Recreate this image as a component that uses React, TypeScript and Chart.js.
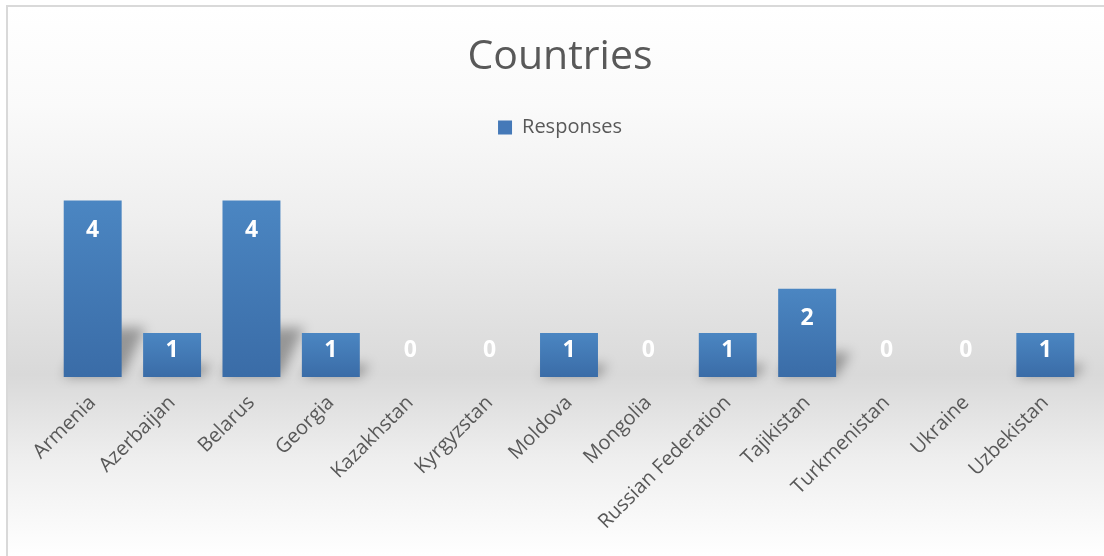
import React, { useEffect, useRef } from "react";
import { Chart, registerables } from "chart.js";

Chart.register(...registerables);

const categories = [
  "Armenia",
  "Azerbaijan",
  "Belarus",
  "Georgia",
  "Kazakhstan",
  "Kyrgyzstan",
  "Moldova",
  "Mongolia",
  "Russian Federation",
  "Tajikistan",
  "Turkmenistan",
  "Ukraine",
  "Uzbekistan",
];
const responses = [4, 1, 4, 1, 0, 0, 1, 0, 1, 2, 0, 0, 1];
const seriesName = "Responses";
const chartTitle = "Countries";
const yAxisMax = 5.2;

const FONT = "'Open Sans', 'DejaVu Sans', sans-serif";
const TEXT = "#595959";

const shadowPlugin = {
  id: "floorShadow",
  beforeDatasetsDraw(chart: any) {
    const ctx = chart.ctx;
    const meta = chart.getDatasetMeta(0);
    ctx.save();
    ctx.filter = "blur(6px)";
    ctx.fillStyle = "rgba(0,0,0,0.32)";
    meta.data.forEach((bar: any) => {
      const p = bar.getProps(["x", "y", "base", "width"], true);
      const h = p.base - p.y;
      if (h <= 0) return;
      const left = p.x - p.width / 2;
      const right = p.x + p.width / 2;
      const up = h * 0.28;
      const sh = 6 + h * 0.1;
      ctx.beginPath();
      ctx.moveTo(left, p.base);
      ctx.lineTo(right, p.base);
      ctx.lineTo(right + sh, p.base - up);
      ctx.lineTo(left + sh, p.base - up);
      ctx.closePath();
      ctx.fill();
    });
    ctx.restore();
  },
};

const labelPlugin = {
  id: "barValueLabels",
  afterDatasetsDraw(chart: any) {
    const ctx = chart.ctx;
    const meta = chart.getDatasetMeta(0);
    ctx.save();
    ctx.fillStyle = "#ffffff";
    ctx.font = `bold 23px ${FONT}`;
    ctx.textAlign = "center";
    ctx.textBaseline = "middle";
    meta.data.forEach((bar: any, i: number) => {
      const p = bar.getProps(["x", "y", "base"], true);
      const ly = Math.min(p.y + 30, p.base - 27);
      ctx.fillText(String(responses[i]), p.x, ly);
    });
    ctx.restore();
  },
};

export default function App() {
  const ref = useRef<HTMLCanvasElement>(null);

  useEffect(() => {
    document.body.style.overflow = "hidden";
    const canvas = ref.current!;
    const chart = new Chart(canvas, {
      type: "bar",
      data: {
        labels: categories,
        datasets: [
          {
            label: seriesName,
            data: responses,
            backgroundColor: (c: any) => {
              const ch = c.chart;
              if (!ch.chartArea || c.dataIndex === undefined) return "#4a7ebb";
              const ys = ch.scales.y;
              const v = responses[c.dataIndex];
              const top = ys.getPixelForValue(v);
              const base = ys.getPixelForValue(0);
              if (!isFinite(top) || !isFinite(base) || top === base) return "#4a7ebb";
              const g = ch.ctx.createLinearGradient(0, top, 0, base);
              g.addColorStop(0, "#4b86c2");
              g.addColorStop(1, "#3a6ca7");
              return g;
            },
            borderWidth: 0,
            categoryPercentage: 1,
            barPercentage: 0.73,
          },
        ],
      },
      options: {
        responsive: false,
        animation: false,
        layout: { padding: { left: 0, right: 2, top: 0, bottom: 19 } },
        plugins: {
          title: {
            display: true,
            text: chartTitle,
            color: TEXT,
            font: { family: FONT, size: 41, weight: "normal", lineHeight: 1.1 },
            padding: { top: 28, bottom: 0 },
          },
          legend: {
            display: true,
            labels: {
              color: TEXT,
              font: { family: FONT, size: 20 },
              boxWidth: 14,
              boxHeight: 14,
              padding: 37.5,
              generateLabels: () => [
                {
                  text: seriesName,
                  fillStyle: "#4579b8",
                  strokeStyle: "#4579b8",
                  lineWidth: 0,
                  fontColor: TEXT,
                  datasetIndex: 0,
                  hidden: false,
                },
              ],
            },
          },
          tooltip: { enabled: false },
        },
        scales: {
          x: {
            grid: { display: false, drawTicks: false },
            border: { display: false },
            ticks: {
              color: TEXT,
              font: { family: FONT, size: 20 },
              minRotation: 45,
              maxRotation: 45,
              padding: 14,
              autoSkip: false,
            },
          },
          y: {
            display: true,
            position: "left",
            min: 0,
            max: yAxisMax,
            grid: { display: false, drawTicks: false },
            border: { display: false },
            ticks: { display: false },
            afterFit: (s: any) => {
              s.width = 45;
            },
          },
          yRight: {
            display: true,
            position: "right",
            min: 0,
            max: yAxisMax,
            grid: { display: false, drawTicks: false },
            border: { display: false },
            ticks: { display: false },
            afterFit: (s: any) => {
              s.width = 27;
            },
          },
        },
      },
      plugins: [shadowPlugin, labelPlugin],
    });
    return () => chart.destroy();
  }, []);

  return (
    <div
      style={{
        position: "absolute",
        left: 6,
        top: 5,
        width: 1096,
        height: 549,
        overflow: "hidden",
        borderLeft: "2px solid #d9d9d9",
        borderTop: "2px solid #d9d9d9",
        background:
          "linear-gradient(to bottom, #ffffff 0%, #fafafa 18%, #efefef 38%, #d9d9d9 67%, #eeeeee 82%, #ffffff 100%)",
      }}
    >
      <canvas ref={ref} width={1106} height={560} style={{ display: "block" }} />
    </div>
  );
}
